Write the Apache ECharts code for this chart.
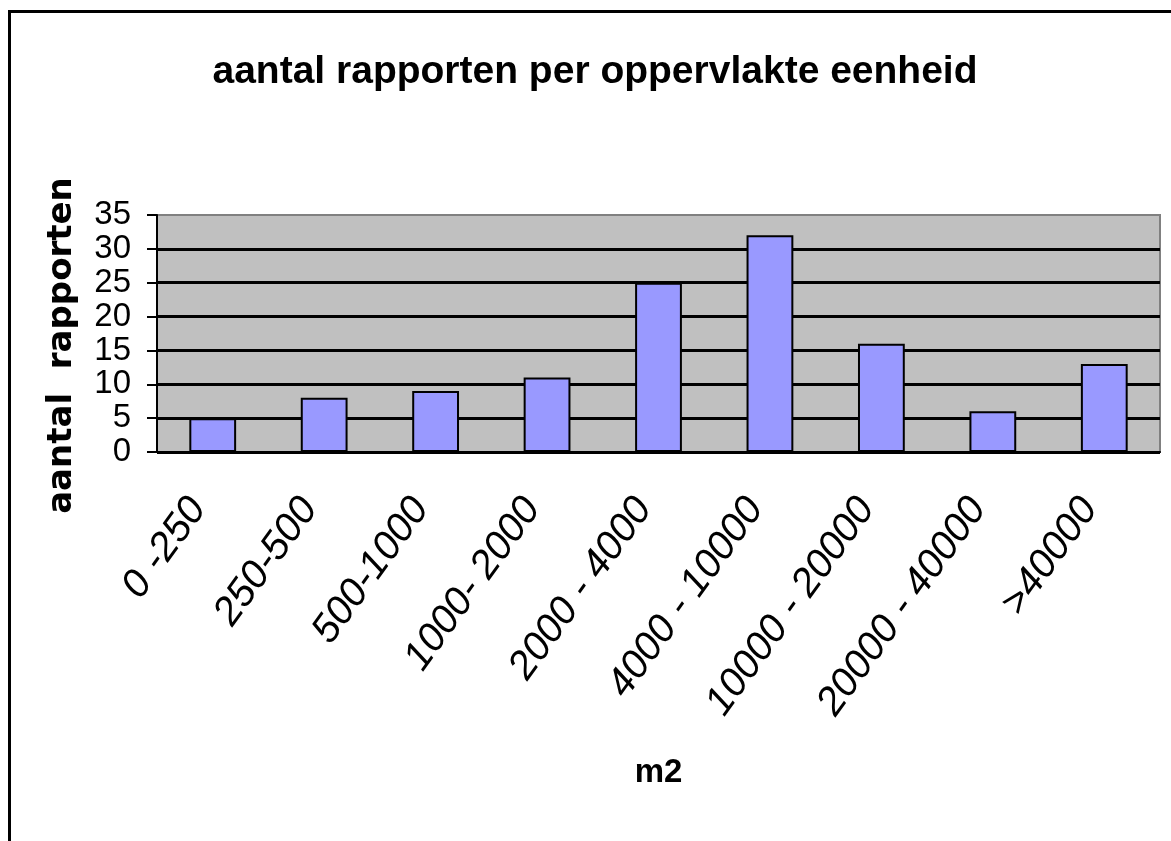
<!DOCTYPE html>
<html lang="nl">
<head>
    <meta charset="UTF-8">
    <title>aantal rapporten per oppervlakte eenheid</title>
    <script src="https://cdn.jsdelivr.net/npm/echarts@6/dist/echarts.min.js"></script>
    <style>
        html, body { margin: 0; padding: 0; background: #fff; }
        #main { width: 1171px; height: 841px; }
    </style>
</head>
<body>
<div id="main"></div>
<script type="text/javascript">
    // categorieen (m2) en aantallen
    var categories = ['0 -250', '250-500', '500-1000', '1000- 2000', '2000 - 4000',
        '4000 - 10000', '10000 - 20000', '20000 - 40000', '>40000'];
    var counts = [5, 8, 9, 11, 25, 32, 16, 6, 13];
    var yTicks = [0, 5, 10, 15, 20, 25, 30, 35];

    var myChart = echarts.init(document.getElementById('main'));

    var option = {
        animation: false,
        backgroundColor: '#fff',
        title: {
            text: 'aantal rapporten per oppervlakte eenheid',
            left: 590,
            top: 48,
            textAlign: 'center',
            textStyle: {
                fontFamily: 'Liberation Sans',
                fontWeight: 'bold',
                fontSize: 39,
                color: '#000'
            }
        },
        // kader rond de figuur (rechts en onder afgesneden)
        graphic: [{
            type: 'rect',
            shape: { x: 9.5, y: 11.5, width: 1300, height: 1000 },
            style: { fill: null, stroke: '#000', lineWidth: 3 },
            silent: true
        }],
        grid: {
            left: 157,
            top: 215,
            right: 11,
            bottom: 389,
            show: true,
            backgroundColor: '#C0C0C0',
            borderColor: '#808080',
            borderWidth: 2
        },
        xAxis: {
            type: 'category',
            data: categories,
            name: 'm2',
            nameLocation: 'middle',
            nameGap: 304,
            nameTextStyle: {
                fontFamily: 'Liberation Sans',
                fontWeight: 'bold',
                fontSize: 33,
                color: '#000'
            },
            axisLine: { lineStyle: { color: '#000', width: 2 } },
            axisTick: { length: 10, lineStyle: { color: '#000', width: 2 } },
            axisLabel: {
                rotate: 54,
                margin: 30,
                padding: [0, 25, 0, 0],
                interval: 0,
                fontFamily: 'Liberation Sans',
                fontStyle: 'italic',
                fontSize: 40,
                color: '#000'
            }
        },
        yAxis: {
            type: 'value',
            min: yTicks[0],
            max: yTicks[yTicks.length - 1],
            interval: 5,
            name: 'aantal  rapporten',
            nameLocation: 'middle',
            nameGap: 78,
            nameTextStyle: {
                fontFamily: 'DejaVu Sans',
                fontWeight: 'bold',
                fontSize: 34,
                color: '#000',
                padding: [0, 24, 0, 0]
            },
            axisLine: { show: true, lineStyle: { color: '#000', width: 2 } },
            axisTick: { show: true, length: 10, lineStyle: { color: '#000', width: 2 } },
            axisLabel: {
                margin: 26,
                showMinLabel: true,
                showMaxLabel: true,
                hideOverlap: false,
                fontFamily: 'Liberation Sans',
                fontSize: 33,
                color: '#000'
            },
            splitLine: {
                show: true,
                showMaxLine: false,
                lineStyle: { color: '#000', width: 3 }
            }
        },
        series: [{
            name: 'aantal rapporten',
            type: 'bar',
            data: counts,
            barWidth: '42%',
            itemStyle: {
                color: '#9999FF',
                borderColor: '#000',
                borderWidth: 2
            }
        }]
    };

    myChart.setOption(option);
</script>
</body>
</html>
